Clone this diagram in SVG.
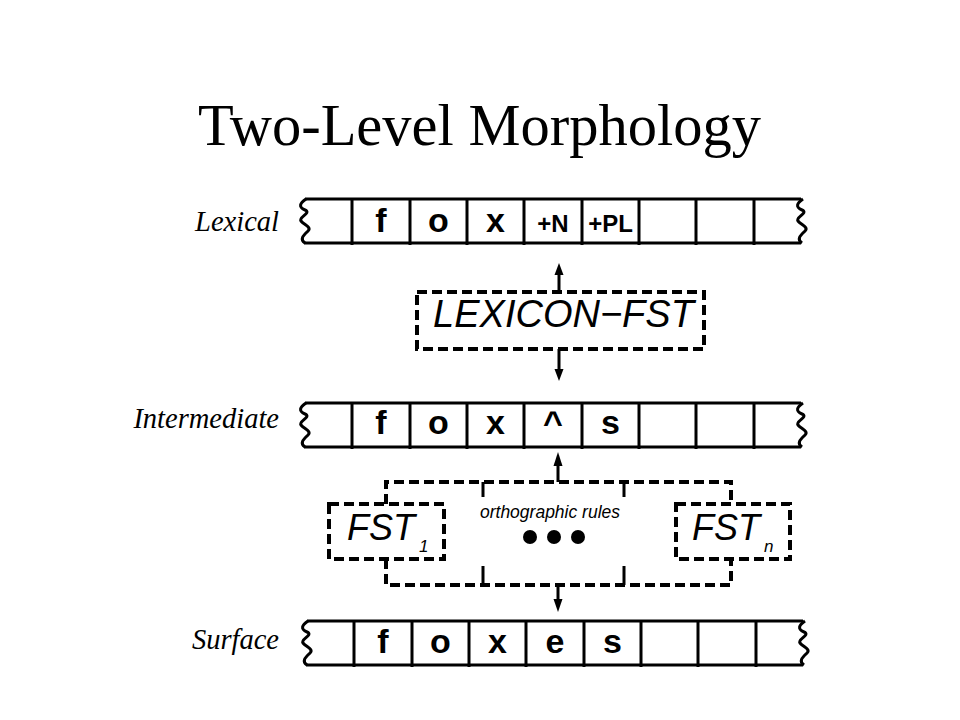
<svg xmlns="http://www.w3.org/2000/svg" xmlns:xlink="http://www.w3.org/1999/xlink" width="960" height="720" viewBox="0 0 960 720">
<style>
.tape{fill:none;stroke:#000;stroke-width:3}
.cell{font-family:"Liberation Sans",Arial,sans-serif;font-weight:bold;font-size:34px;text-anchor:middle;fill:#000}
.tag{font-size:24px}
.lbl{font-family:"Liberation Serif","Times New Roman",serif;font-style:italic;font-size:28.5px;text-anchor:end;fill:#000}
.dash{fill:none;stroke:#000;stroke-width:4;stroke-dasharray:10 5}
.solid{fill:none;stroke:#000;stroke-width:3}
.fst{font-family:"Liberation Sans",Arial,sans-serif;font-style:italic;fill:#000}
</style>
<defs>
<path id="sqL" d="M0,0 C-6,4 -8,8 -1,11 C6,14 -8,18 -5,22 C-2,26 6,28 2,32 C-2,36 -7,40 -1,44" fill="none" stroke="#000" stroke-width="3"/>
<g id="tapeShape">
<line class="tape" x1="305" y1="0" x2="801" y2="0"/>
<line class="tape" x1="304" y1="44" x2="801" y2="44"/>
<use xlink:href="#sqL" x="306" y="0"/>
<use xlink:href="#sqL" x="803" y="0"/>
<path class="tape" d="M352,0V46 M410,0V46 M467,0V46 M524,0V46 M582,0V46 M639,0V46 M696,0V46 M754,0V46"/>
</g>
</defs>

<g id="title">
<text x="198" y="145" font-family="Liberation Serif,'Times New Roman',serif" font-size="58.5" fill="#000">Two-Level Morphology</text>
</g>

<g id="lexical">
<text class="lbl" x="279" y="231">Lexical</text>
<g transform="translate(0,199)"><use xlink:href="#tapeShape"/></g>
<text class="cell" x="381" y="232">f</text>
<text class="cell" x="438.5" y="232">o</text>
<text class="cell" x="495.5" y="232">x</text>
<text class="cell tag" x="553" y="232">+N</text>
<text class="cell tag" x="610.5" y="232">+PL</text>
</g>

<g id="lexicon-fst">
<rect class="dash" x="417" y="292" width="287" height="57"/>
<text class="fst" x="563.5" y="327" font-size="38" text-anchor="middle">LEXICON−FST</text>
</g>

<g id="intermediate">
<text class="lbl" x="279" y="428">Intermediate</text>
<g transform="translate(0,403)"><use xlink:href="#tapeShape"/></g>
<text class="cell" x="381" y="434">f</text>
<text class="cell" x="438.5" y="434">o</text>
<text class="cell" x="495.5" y="434">x</text>
<text class="cell" x="553" y="434">^</text>
<text class="cell" x="610.5" y="434">s</text>
</g>

<g id="fst1">
<rect class="dash" x="329" y="504" width="115" height="55"/>
<text class="fst" x="347" y="540" font-size="36">FST</text>
<text class="fst" x="419" y="552" font-size="17">1</text>
</g>

<g id="fstn">
<rect class="dash" x="676" y="504" width="114" height="55"/>
<text class="fst" x="692" y="540" font-size="36">FST</text>
<text class="fst" x="764" y="552" font-size="17">n</text>
</g>

<g id="orthographic-rules">
<text class="fst" x="550" y="518" font-size="17.5" text-anchor="middle">orthographic rules</text>
<circle cx="530" cy="537" r="7" fill="#000"/>
<circle cx="554" cy="537" r="7" fill="#000"/>
<circle cx="578" cy="537" r="7" fill="#000"/>
</g>

<g id="surface">
<text class="lbl" x="279" y="649">Surface</text>
<g transform="translate(2,621)"><use xlink:href="#tapeShape"/></g>
<text class="cell" x="383" y="653">f</text>
<text class="cell" x="440.5" y="653">o</text>
<text class="cell" x="497.5" y="653">x</text>
<text class="cell" x="555" y="653">e</text>
<text class="cell" x="612.5" y="653">s</text>
</g>

<g id="connectors">
<path class="dash" d="M386,504 V482 H731 V504"/>
<path class="dash" d="M386,559 V585 H731 V559"/>
<path class="solid" d="M483,482 V497 M624,482 V497 M483,566 V585 M624,566 V585"/>
<line class="solid" x1="559" y1="292" x2="559" y2="272"/>
<polygon points="559,263 554.5,275 563.5,275" fill="#000"/>
<line class="solid" x1="559" y1="349" x2="559" y2="372"/>
<polygon points="559,381 554.5,369 563.5,369" fill="#000"/>
<line class="solid" x1="558" y1="482" x2="558" y2="463"/>
<polygon points="558,452 553.5,466 562.5,466" fill="#000"/>
<line class="solid" x1="558" y1="585" x2="558" y2="602"/>
<polygon points="558,612 553.5,599 562.5,599" fill="#000"/>
</g>
</svg>
